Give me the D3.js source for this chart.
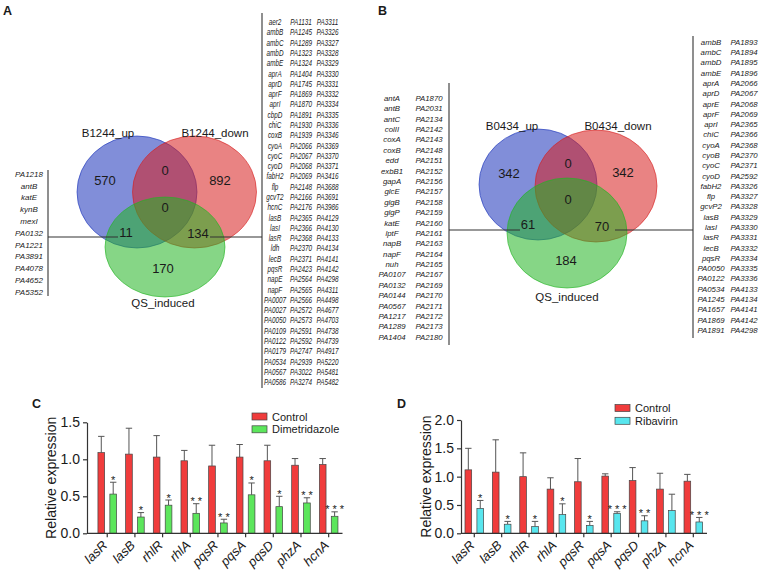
<!DOCTYPE html>
<html><head><meta charset="utf-8">
<script src="https://cdn.jsdelivr.net/npm/d3@7"></script>
<style>body{margin:0;background:#fff}svg{display:block;font-family:Arial,"Liberation Sans",sans-serif}</style>
</head><body><svg id="c" width="767" height="574"></svg>
<script>
// ---------- Venn data ----------
const vennASets = ["B1244_up", "B1244_down", "QS_induced"];
// order: up only, down only, QS only, up&down, up&QS, down&QS, all three
const vennACounts = [570, 892, 170, 0, 11, 134, 0];
const vennBSets = ["B0434_up", "B0434_down", "QS_induced"];
const vennBCounts = [342, 342, 184, 0, 61, 70, 0];

// ---------- gene lists ----------
const listALeft = ["PA1218","antB","katE","kynB","mexI","PA0132","PA1221","PA3891","PA4078","PA4652","PA5352"];
const listARight1 = ["aer2","ambB","ambC","ambD","ambE","aprA","aprD","aprF","aprI","cbpD","chiC","coxB","cyoA","cyoC","cyoD","fabH2","flp","gcvT2","hcnC","lasB","lasI","lasR","ldh","lecB","pqsR","napE","napF","PA0007","PA0027","PA0050","PA0109","PA0122","PA0179","PA0534","PA0567","PA0586"];
const listARight2 = ["PA1131","PA1245","PA1289","PA1323","PA1324","PA1404","PA1745","PA1869","PA1870","PA1891","PA1930","PA1939","PA2066","PA2067","PA2068","PA2069","PA2148","PA2166","PA2176","PA2365","PA2366","PA2368","PA2370","PA2371","PA2423","PA2564","PA2565","PA2566","PA2572","PA2573","PA2591","PA2592","PA2747","PA2939","PA3022","PA3274"];
const listARight3 = ["PA3311","PA3326","PA3327","PA3328","PA3329","PA3330","PA3331","PA3332","PA3334","PA3335","PA3336","PA3346","PA3369","PA3370","PA3371","PA3416","PA3688","PA3691","PA3986","PA4129","PA4130","PA4133","PA4134","PA4141","PA4142","PA4298","PA4311","PA4498","PA4677","PA4703","PA4738","PA4739","PA4917","PA5220","PA5481","PA5482"];
const listBLeft1 = ["antA","antB","antC","colII","coxA","coxB","edd","exbB1","gapA","glcE","glgB","glgP","katE","lptF","napB","napF","nuh","PA0107","PA0132","PA0144","PA0567","PA1217","PA1289","PA1404"];
const listBLeft2 = ["PA1870","PA2031","PA2134","PA2142","PA2143","PA2148","PA2151","PA2152","PA2156","PA2157","PA2158","PA2159","PA2160","PA2161","PA2163","PA2164","PA2165","PA2167","PA2169","PA2170","PA2171","PA2172","PA2173","PA2180"];
const listBRight1 = ["ambB","ambC","ambD","ambE","aprA","aprD","aprE","aprF","aprI","chiC","cyoA","cyoB","cyoC","cyoD","fabH2","flp","gcvP2","lasB","lasI","lasR","lecB","pqsR","PA0050","PA0122","PA0534","PA1245","PA1657","PA1869","PA1891"];
const listBRight2 = ["PA1893","PA1894","PA1895","PA1896","PA2066","PA2067","PA2068","PA2069","PA2365","PA2366","PA2368","PA2370","PA2371","PA2592","PA3326","PA3327","PA3328","PA3329","PA3330","PA3331","PA3332","PA3334","PA3335","PA3336","PA4133","PA4134","PA4141","PA4142","PA4298"];

// ---------- bar chart data ----------
const genes = ["lasR","lasB","rhlR","rhlA","pqsR","pqsA","pqsD","phzA","hcnA"];
const ctrlC   = [1.09, 1.07, 1.03, 0.98, 0.91, 1.03, 0.98, 0.92, 0.93];
const ctrlCSd = [0.22, 0.35, 0.29, 0.14, 0.28, 0.17, 0.21, 0.09, 0.08];
const dimC    = [0.53, 0.22, 0.38, 0.27, 0.14, 0.52, 0.36, 0.41, 0.23];
const dimCSd  = [0.16, 0.06, 0.07, 0.13, 0.05, 0.16, 0.14, 0.07, 0.06];
const starsC  = ["*","*","*","**","**","*","*","**","***"];
const ticksC  = [0, 0.5, 1.0, 1.5];
const ctrlD   = [1.12, 1.08, 1.00, 0.78, 0.91, 1.01, 0.93, 0.78, 0.92];
const ctrlDSd = [0.38, 0.57, 0.42, 0.20, 0.41, 0.04, 0.23, 0.28, 0.12];
const ribD    = [0.44, 0.16, 0.12, 0.33, 0.14, 0.35, 0.22, 0.40, 0.20];
const ribDSd  = [0.14, 0.05, 0.09, 0.19, 0.07, 0.03, 0.09, 0.29, 0.08];
const starsD  = ["*","*","*","*","*","***","**","","***"];
const ticksD  = [0, 0.5, 1.0, 1.5, 2.0];

const svg = d3.select("#c");
svg.append("rect").attr("width", 767).attr("height", 574).attr("fill", "#fff");
const ink = "#1a1a1a";

// ---------- panel letters ----------
svg.selectAll("text.panel").data([["A",3,15],["B",378,15],["C",32,408],["D",397,408]])
  .join("text").attr("class","panel")
  .attr("x", d => d[1]).attr("y", d => d[2]).text(d => d[0])
  .style("font-weight","bold").style("font-size","12.5px").attr("fill", ink);

// ---------- Venn ----------
const vennColors = ["rgb(25,50,185)", "rgb(215,30,30)", "rgb(35,180,35)"];
function drawVenn(sets, counts, geo) {
  const g = svg.append("g");
  g.selectAll("ellipse").data(sets).join("ellipse")
    .attr("cx", (d,i) => geo.e[i][0]).attr("cy", (d,i) => geo.e[i][1])
    .attr("rx", (d,i) => geo.e[i][2]).attr("ry", (d,i) => geo.e[i][3])
    .attr("fill", (d,i) => vennColors[i]).attr("fill-opacity", 0.55)
    .attr("stroke", (d,i) => vennColors[i]).attr("stroke-opacity", 0.6).attr("stroke-width", 1);
  g.selectAll("text.set").data(sets).join("text").attr("class","set")
    .attr("x", (d,i) => geo.l[i][0]).attr("y", (d,i) => geo.l[i][1] + 4)
    .attr("text-anchor","middle").style("font-size","11.5px").attr("fill", ink).text(d => d);
  g.selectAll("text.cnt").data(counts).join("text").attr("class","cnt")
    .attr("x", (d,i) => geo.c[i][0]).attr("y", (d,i) => geo.c[i][1] + 4.5)
    .attr("text-anchor","middle").style("font-size","13px").attr("fill", ink).text(d => d);
  return g;
}
drawVenn(vennASets, vennACounts, {
  e: [[137,192,60,56],[194.5,192,62,56],[165,247,60,50]],
  l: [[108,133],[215,133],[163,303]],
  c: [[105,180],[220,180],[163,268],[165,170],[126,232],[198,233],[165,207]]
});
drawVenn(vennBSets, vennBCounts, {
  e: [[538,184.5,59,55.5],[596,186,61,56],[567,233,60,55]],
  l: [[512,126],[618,126],[567,297]],
  c: [[509,173],[623,172],[566,260],[568,163],[528,224],[602,226],[568,199]]
});

// ---------- connector lines ----------
const lines = [
  [48,170,48,296],[48,237,118,237],[210,237,262,237],[262,13,262,388],
  [449,83,449,345],[449,230,520,230],[615,230,693,230],[693,36,693,338]
];
svg.selectAll("line.conn").data(lines).join("line").attr("class","conn")
  .attr("x1",d=>d[0]).attr("y1",d=>d[1]).attr("x2",d=>d[2]).attr("y2",d=>d[3])
  .attr("stroke","#333").attr("stroke-width",1.1);

// ---------- gene lists ----------
function drawList(items, cx, y0, y1, size, sx) {
  const y = d3.scalePoint().domain(d3.range(items.length)).range([y0, y1]);
  svg.append("g").selectAll("text").data(items).join("text")
    .attr("transform", (d,i) => `translate(${cx},${y(i) + size*0.36}) scale(${sx},1)`)
    .attr("text-anchor","middle").style("font-style","italic").style("font-size", size + "px")
    .attr("fill","#222").text(d => d);
}
drawList(listALeft, 29, 174, 292, 8, 1);
drawList(listARight1, 275, 22, 382, 8.6, 0.74);
drawList(listARight2, 301, 22, 382, 8.6, 0.74);
drawList(listARight3, 327.5, 22, 382, 8.6, 0.74);
drawList(listBLeft1, 392, 98, 337, 7.8, 1);
drawList(listBLeft2, 429, 98, 337, 7.8, 1);
drawList(listBRight1, 711, 42, 330, 7.8, 1);
drawList(listBRight2, 744, 42, 330, 7.8, 1);

// ---------- bar panels ----------
function barPanel(o) {
  const g = svg.append("g");
  const x = d3.scaleBand().domain(genes).range(o.xr);
  const y = d3.scaleLinear().domain(o.ydom).range([533.3, o.ytop]);
  const x1 = d3.scaleBand().domain([0,1]).range([-9.3, 9.3]).paddingInner(0.44);
  const cx = d => x(d) + x.bandwidth()/2;
  const series = [{v:o.ctrl, sd:o.ctrlSd, c:"#f03c3c"}, {v:o.trt, sd:o.trtSd, c:o.trtColor}];
  series.forEach((s, si) => {
    const bg = g.append("g");
    bg.selectAll("path.err").data(genes).join("path").attr("class","err")
      .attr("d", (d,i) => {
        const m = cx(d) + x1(si) + x1.bandwidth()/2, t = y(s.v[i] + s.sd[i]), b = y(s.v[i]);
        return `M${m},${b}V${t}M${m-3.2},${t}H${m+3.2}`;
      }).attr("stroke","#555").attr("fill","none").attr("stroke-width",1);
    bg.selectAll("rect").data(genes).join("rect")
      .attr("x", d => cx(d) + x1(si)).attr("width", x1.bandwidth())
      .attr("y", (d,i) => y(s.v[i])).attr("height", (d,i) => y(0) - y(s.v[i]))
      .attr("fill", s.c).attr("stroke","#444").attr("stroke-width",0.7);
  });
  // significance stars
  g.selectAll("text.star").data(genes).join("text").attr("class","star")
    .attr("x", d => cx(d) + x1(1) + x1.bandwidth()/2)
    .attr("y", (d,i) => y(o.trt[i] + o.trtSd[i]) + 1.5)
    .attr("text-anchor","middle").style("font-size","11px").attr("fill", ink)
    .text((d,i) => o.stars[i].split("").join(" "));
  // axes
  const ya = g.append("g").attr("transform", `translate(${o.yx},0)`)
    .call(d3.axisLeft(y).tickValues(o.ticks).tickFormat(d3.format(".1f")).tickSize(4).tickSizeOuter(0).tickPadding(3));
  ya.selectAll("text").style("font-size","14px").style("font-family","Arial,'Liberation Sans',sans-serif").attr("fill", ink);
  ya.selectAll("line,path").attr("stroke","#333").attr("stroke-width",1.2);
  const xa = g.append("g").attr("transform","translate(0,533.3)")
    .call(d3.axisBottom(x).tickSize(4).tickSizeOuter(0).tickFormat(""));
  xa.select(".domain").attr("d", `M${o.yx},0H${o.xr[1]}`);
  xa.selectAll("text").remove();
  xa.selectAll("line,path").attr("stroke","#333").attr("stroke-width",1.2);
  g.selectAll("text.xl").data(genes).join("text").attr("class","xl")
    .attr("transform", d => `translate(${cx(d)+1},546) rotate(-45)`)
    .attr("text-anchor","end").style("font-style","italic").style("font-size","13px")
    .attr("fill", ink).text(d => d);
  g.append("text").attr("transform", `translate(${o.labX},${(533.3+o.ytop)/2}) rotate(-90)`)
    .attr("text-anchor","middle").style("font-size","14px").attr("fill", ink).text("Relative expression");
  // legend
  const leg = g.append("g");
  const lg = [["Control","#f03c3c"],[o.trtName,o.trtColor]];
  leg.selectAll("rect").data(lg).join("rect")
    .attr("x", o.legX).attr("y", (d,i) => o.legY + i*12.8).attr("width",15).attr("height",7)
    .attr("fill", d => d[1]).attr("stroke","#444").attr("stroke-width",0.7);
  leg.selectAll("text").data(lg).join("text")
    .attr("x", o.legX + 20).attr("y", (d,i) => o.legY + i*12.8 + 7.5)
    .style("font-size","11px").attr("fill", ink).text(d => d[0]);
}
barPanel({xr:[93.4,342.5], ydom:[0,1.5], ytop:422.3, yx:87, ticks:ticksC,
  ctrl:ctrlC, ctrlSd:ctrlCSd, trt:dimC, trtSd:dimCSd, stars:starsC,
  trtColor:"#5ce65c", trtName:"Dimetridazole", labX:56, legX:252, legY:413});
barPanel({xr:[460.6,707], ydom:[0,2], ytop:420, yx:461, ticks:ticksD,
  ctrl:ctrlD, ctrlSd:ctrlDSd, trt:ribD, trtSd:ribDSd, stars:starsD,
  trtColor:"#58e6ee", trtName:"Ribavirin", labX:431, legX:615, legY:404.5});
</script></body></html>
